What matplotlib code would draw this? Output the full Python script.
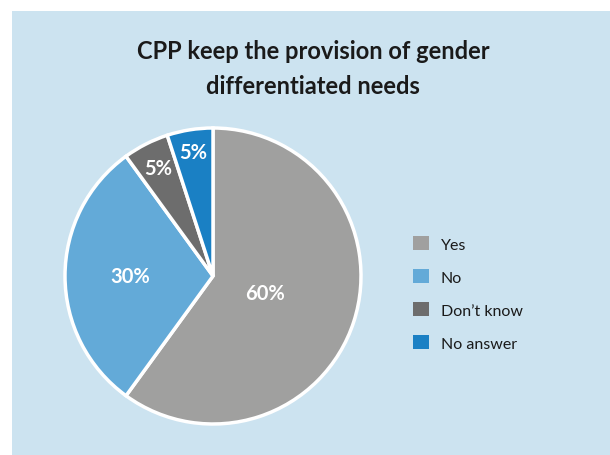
import numpy as np
import matplotlib
matplotlib.use("Agg")
import matplotlib.pyplot as plt
from matplotlib.patches import Rectangle

plt.rcParams["font.family"] = ["Lato", "DejaVu Sans"]

# 数据
labels = ["Yes", "No", "Don\u2019t know", "No answer"]
values = [60, 30, 5, 5]
colors = ["#a0a09f", "#63aad8", "#6d6d6d", "#1a80c4"]
label_dist = [0.37, 0.56, 0.82, 0.85]
title = "CPP keep the provision of gender\ndifferentiated needs"

W, H = 610, 456
fig = plt.figure(figsize=(W / 100, H / 100), dpi=100)
fig.patch.set_facecolor("white")
fig.patches.append(Rectangle((12 / W, 0), 1 - 12 / W, 1 - 12 / H,
                             transform=fig.transFigure, facecolor="#cce3f0",
                             edgecolor="none", zorder=-5))

# 饼图区域：圆心 (213, 277)，半径 148
r = 148
ax = fig.add_axes([(213 - r) / W, (H - 277 - r) / H, 2 * r / W, 2 * r / H])
ax.set_zorder(3)
ax.set_facecolor("none")
wedges, texts, autotexts = ax.pie(
    values, colors=colors, startangle=90, counterclock=False,
    autopct="%d%%", pctdistance=0.5,
    wedgeprops=dict(edgecolor="white", linewidth=2.5),
    textprops=dict(color="white", fontsize=14.5, fontweight="bold"),
)
ax.set_xlim(-1.0, 1.0)
ax.set_ylim(-1.0, 1.0)
ax.set_aspect("auto")
for w, t, d in zip(wedges, autotexts, label_dist):
    ang = np.deg2rad((w.theta1 + w.theta2) / 2)
    t.set_position((d * np.cos(ang), d * np.sin(ang)))
    t.set_ha("center")
    t.set_va("center")

fig.text(313 / W, 1 - 69 / H, title, ha="center", va="center",
         fontsize=17, fontweight="bold", color="#1a1a1a", linespacing=1.6)

# 图例
handles = [Rectangle((0, 0), 1, 1, facecolor=c) for c in colors]
leg = fig.legend(handles, labels, loc="upper left", bbox_to_anchor=(399 / W, 1 - 223 / H),
                 frameon=False, fontsize=11.5, handlelength=0.95, handleheight=0.95,
                 labelspacing=1.1, handletextpad=0.75, labelcolor="#1a1a1a")
leg.set_zorder(4)

fig.savefig("out.png", dpi=100)
